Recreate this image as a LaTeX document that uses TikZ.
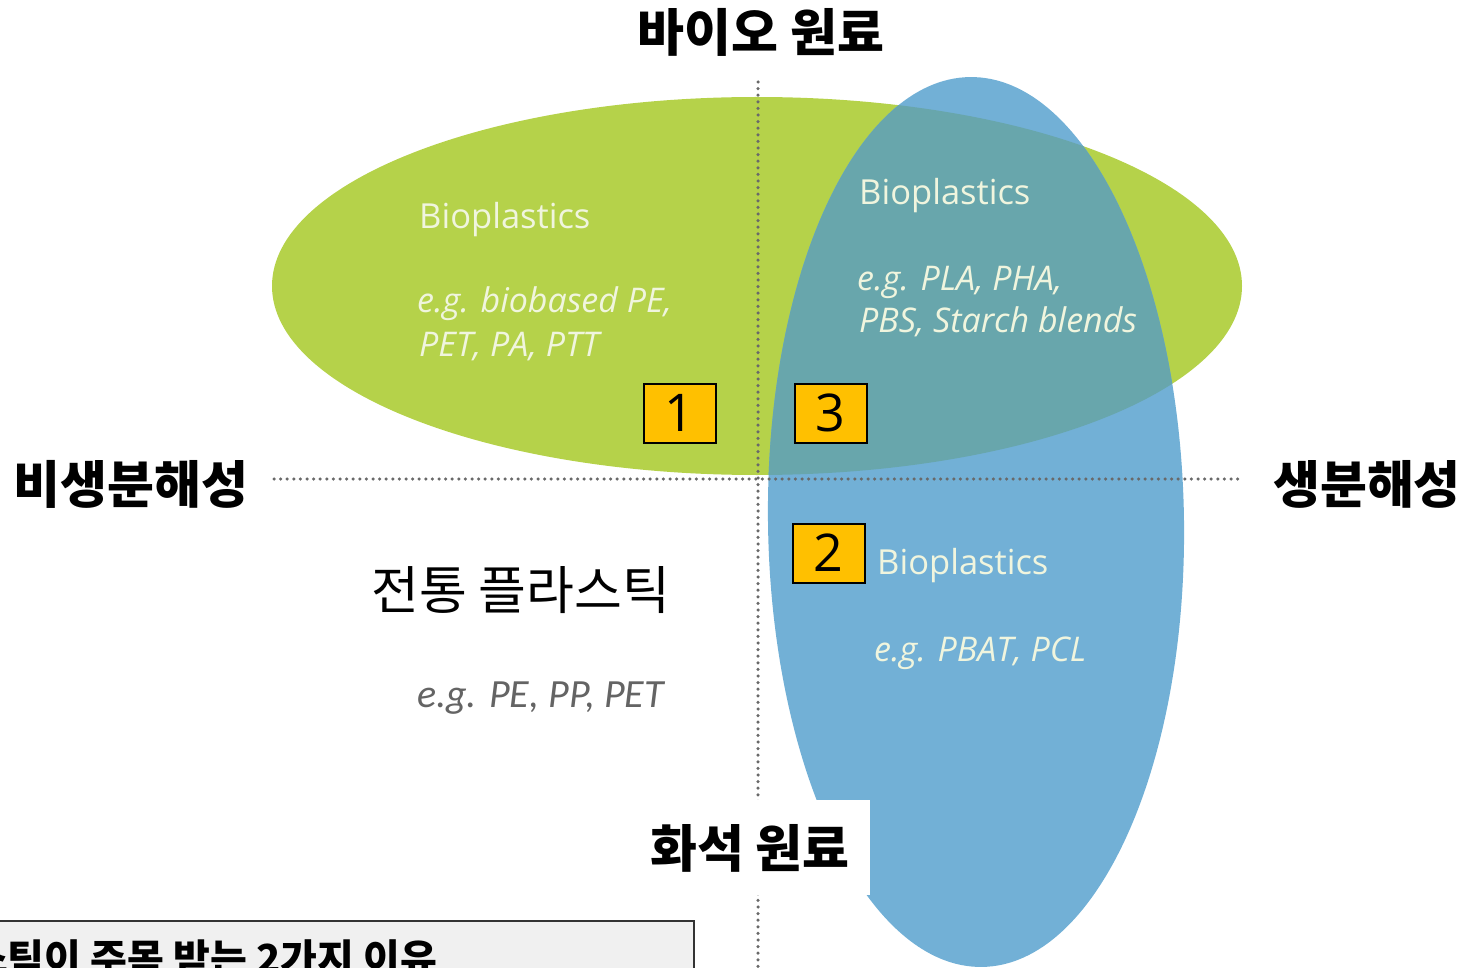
\documentclass[tikz,border=0pt]{standalone}
\usepackage{fontspec}
\setmainfont{Open Sans}
\newfontfamily\krfont{Noto Sans CJK KR}
\newfontfamily\carfont{Carlito}
\newfontfamily\numfont{Open Sans}
\definecolor{gfill}{RGB}{181,210,74}
\definecolor{bfill}{RGB}{114,176,214}
\definecolor{tfill}{RGB}{104,166,172}
\definecolor{dotc}{RGB}{105,105,105}
\definecolor{txtc}{RGB}{240,245,222}
\definecolor{ybox}{RGB}{255,192,0}
\definecolor{egray}{RGB}{100,100,100}
\definecolor{boxgray}{RGB}{240,240,240}
\tikzset{
  axislabel/.style={font=\krfont\bfseries\fontsize{51}{55}\selectfont, inner sep=0pt},
  biotext/.style={font=\fontsize{34.5}{38}\selectfont, text=txtc, inner sep=0pt, anchor=base west},
  egtext/.style={font=\itshape\fontsize{34}{38}\selectfont, text=txtc, inner sep=0pt, anchor=base west},
  numbox/.style={draw=black, line width=2pt, fill=ybox, minimum width=72pt, minimum height=59pt, inner sep=0pt, font=\numfont\fontsize{52}{56}\selectfont},
  dotline/.style={draw=dotc, line width=3.5pt, dash pattern=on 0pt off 6.6pt, line cap=round}
}
\begin{document}
\begin{tikzpicture}[x=1pt,y=-1pt]
\useasboundingbox (0,0) rectangle (1478,968);
\clip (0,0) rectangle (1478,968);
% ellipses
\fill[gfill] (757,286) ellipse [x radius=485, y radius=189];
\fill[bfill, rotate around={0.8:(976,522)}] (976,522) ellipse [x radius=208, y radius=445];
\begin{scope}
  \clip[rotate around={0.8:(976,522)}] (976,522) ellipse [x radius=208, y radius=445];
  \fill[tfill] (757,286) ellipse [x radius=485, y radius=189];
\end{scope}
% axes
\coordinate (hl) at (274,479);
\coordinate (hr) at (1240,479);
\coordinate (vt) at (758,82);
\coordinate (vb) at (758,975);
\draw[dotline] (hl) -- (hr);
\draw[dotline] (vt) -- (vb);
% axis labels
\node[axislabel] (bio) at (761,32) {바이오 원료};
\node[axislabel] (nonbio) at (131,484) {비생분해성};
\node[axislabel] (biodeg) at (1367,484) {생분해성};
\fill[white] (640,800) rectangle (870,895);
\node[axislabel] (fossil) at (750,848) {화석 원료};
% left green text
\node[biotext] (b1) at (419,229) {Bioplastics};
\node[egtext] (e1a) at (417,313) {e.g. biobased PE,};
\node[egtext] (e1b) at (419,356) {PET, PA, PTT};
% teal text
\node[biotext] (b3) at (859,205) {Bioplastics};
\node[egtext] (e3a) at (857,291) {e.g. PLA, PHA,};
\node[egtext] (e3b) at (859,333) {PBS, Starch blends};
% blue text
\node[biotext] (b2) at (877,574) {Bioplastics};
\node[egtext] (e2) at (874,661) {e.g. PBAT, PCL};
% conventional
\node[font=\krfont\fontsize{52}{56}\selectfont, inner sep=0pt] (conv) at (521,590) {전통 플라스틱};
\node[font=\carfont\itshape\fontsize{40}{44}\selectfont, text=egray, inner sep=0pt, anchor=base west] (conveg) at (417,707) {e.g. PE, PP, PET};
% number boxes
\node[numbox] (n1) at (679.5,413) {1};
\node[numbox] (n3) at (830.5,413) {3};
\node[numbox] (n2) at (828.5,553) {2};
% bottom box
\draw[fill=boxgray, draw=black!80, line width=1.5pt] (-5,921) rectangle (694,1010);
\node[font=\krfont\bfseries\fontsize{40}{44}\selectfont, inner sep=0pt, anchor=base west] (bottomtxt) at (-29,973) {스틱이 주목 받는 2가지 이유};
\end{tikzpicture}
\end{document}
